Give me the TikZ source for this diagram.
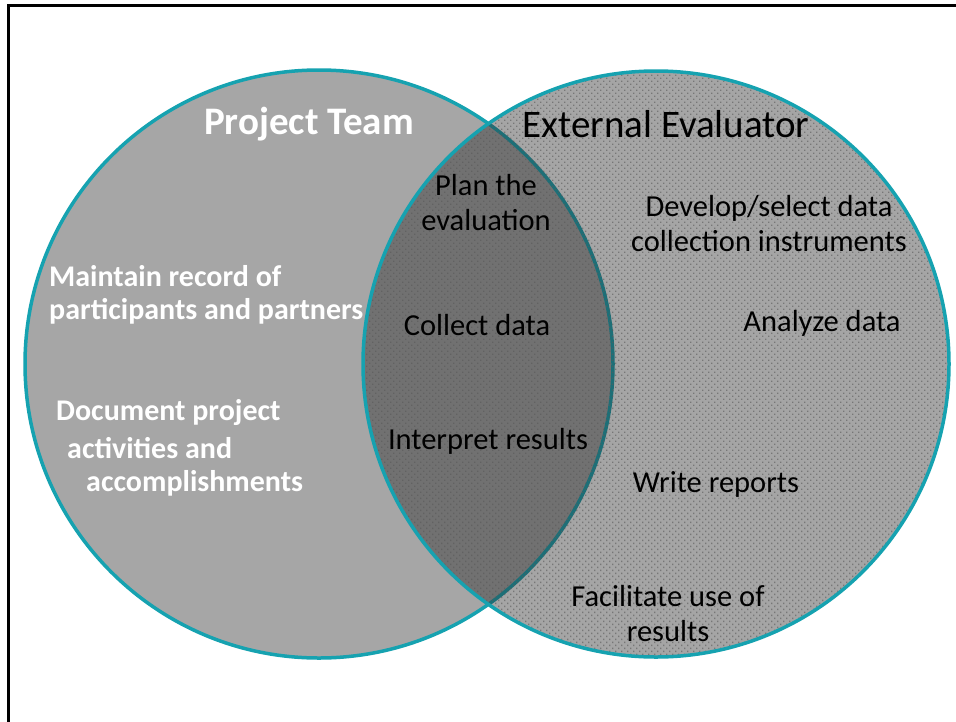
\documentclass[tikz,border=0pt]{standalone}
\usepackage{fontspec}
\setmainfont{Carlito}
\usetikzlibrary{patterns}
\definecolor{ringc}{RGB}{22,162,176}
\definecolor{leftfill}{RGB}{166,166,166}
\pgfdeclarepatternformonly{sparsedots}{\pgfqpoint{-1pt}{-1pt}}{\pgfqpoint{7pt}{7pt}}{\pgfqpoint{6pt}{6pt}}{%
  \pgfpathrectangle{\pgfqpoint{0pt}{0pt}}{\pgfqpoint{1.3pt}{1.3pt}}%
  \pgfpathrectangle{\pgfqpoint{3pt}{3pt}}{\pgfqpoint{1.3pt}{1.3pt}}%
  \pgfusepath{fill}}
\tikzset{
  ring/.style={draw=ringc, line width=3.5pt},
  title/.style={font=\fontsize{39}{44}\selectfont, inner sep=0pt},
  whitetitle/.style={title, font=\fontsize{39}{44}\selectfont\bfseries, text=white},
  item/.style={font=\fontsize{30.5}{35}\selectfont, align=center, inner sep=0pt, text=black},
  witem/.style={font=\fontsize{30}{35}\selectfont\bfseries, inner sep=0pt, text=white, anchor=west},
}
\begin{document}
\begin{tikzpicture}[x=1pt,y=-1pt]
\useasboundingbox (0,0) rectangle (956,721);
\fill[white] (0,0) rectangle (956,721);
% frame
\draw[line width=3pt] (8,760) -- (8,5) -- (990,5);
% left circle
\fill[leftfill] (319,364) circle (294);
\draw[ring] (319,364) circle (294);
% right circle (semi-transparent, dotted)
\fill[black!84, fill opacity=0.42] (656,364) circle (293);
\fill[pattern=sparsedots, pattern color=black!65, fill opacity=0.6] (656,364) circle (293);
\draw[ring] (656,364) circle (293);
% titles
\node[whitetitle] (pt) at (309,124) {Project Team};
\node[title] (ee) at (666,124) {External Evaluator};
% items
\node[item] (plan) at (486,203) {Plan the\\evaluation};
\node[item] (dev) at (769,224) {Develop/select data\\collection instruments};
\node[item] (coll) at (477,325) {Collect data};
\node[item] (anal) at (822,323) {Analyze data};
\node[item] (interp) at (488,441) {Interpret results};
\node[item] (write) at (716,484) {Write reports};
\node[item] (fac) at (668,614) {Facilitate use of\\results};
\node[witem, anchor=west] (m1) at (49,276) {Maintain record of};
\node[witem, anchor=west] (m2) at (49,311) {participants and partners};
\node[witem] (d1) at (56,413) {Document project};
\node[witem] (d2) at (67,448) {activities and};
\node[witem] (d3) at (86,483) {accomplishments};
\end{tikzpicture}
\end{document}
